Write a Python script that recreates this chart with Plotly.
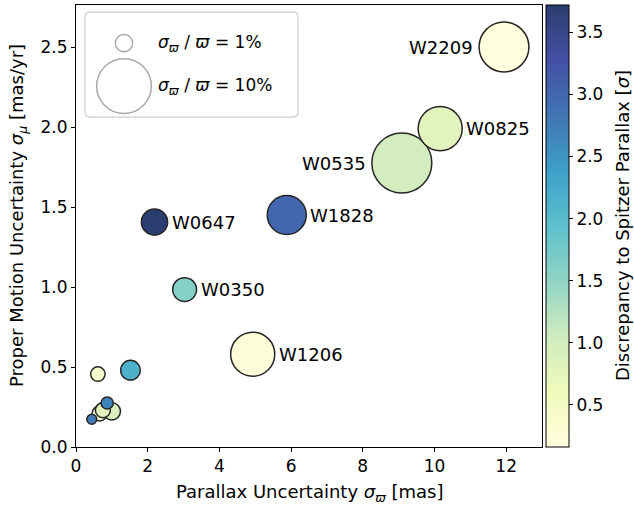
import numpy as np
import plotly.graph_objects as go

# Astrometric uncertainties for each target
names = ["W2209", "W0825", "W0535", "W1828", "W0647", "W0350", "W1206",
         "", "", "", "", "", "", ""]
plx_err = [11.94, 10.16, 9.09, 5.88, 2.19, 3.03, 4.93,
           0.61, 1.52, 1.00, 0.66, 0.75, 0.87, 0.44]          # sigma_varpi [mas]
pm_err = [2.50, 1.99, 1.775, 1.45, 1.406, 0.984, 0.58,
          0.456, 0.48, 0.223, 0.21, 0.23, 0.275, 0.173]       # sigma_mu [mas/yr]
frac_err = [8.3, 6.5, 12.0, 5.1, 2.3, 1.9, 6.5,
            0.7, 1.3, 1.0, 0.75, 0.75, 0.5, 0.33]             # sigma_varpi / varpi [%]
discrepancy = [0.16, 0.8, 1.0, 3.0, 3.72, 1.6, 0.2,
               0.4, 2.15, 0.9, 0.35, 0.8, 2.7, 2.8]          # [sigma]
label_side = ["left", "right", "left", "right", "right", "right", "right",
              None, None, None, None, None, None, None]

legend_fracs = [1, 10]

FONT = "DejaVu Sans"
FS = 18
ALPHA = 0.86
SIZE_K = 17.3  # marker diameter (px) for a 1% fractional error


def diam(p):
    return SIZE_K * np.sqrt(np.asarray(p, dtype=float))


# YlGnBu, pre-blended with white to mimic slight transparency
base = ["#ffffd9", "#edf8b1", "#c7e9b4", "#7fcdbb", "#41b6c4",
        "#1d91c0", "#225ea8", "#253494", "#081d58"]


def blend(h, a):
    h = h.lstrip("#")
    r, g, b = (round(a * int(h[i:i + 2], 16) + (1 - a) * 255) for i in (0, 2, 4))
    return f"rgb({r},{g},{b})"


cscale = [[i / (len(base) - 1), blend(c, ALPHA)] for i, c in enumerate(base)]

# draw largest markers first so small ones stay visible
order = np.argsort(-np.asarray(frac_err))
x = np.asarray(plx_err)[order]
y = np.asarray(pm_err)[order]
p = np.asarray(frac_err)[order]
c = np.asarray(discrepancy)[order]
cmin, cmax = min(discrepancy), max(discrepancy)

fig = go.Figure()
fig.add_trace(go.Scatter(
    x=x, y=y, mode="markers",
    marker=dict(
        size=diam(p), color=c, colorscale=cscale, cmin=cmin, cmax=cmax, opacity=1,
        line=dict(color="#262626", width=1.5),
        colorbar=dict(
            x=1.0086, xanchor="left", xpad=0, y=0.5, yanchor="middle",
            len=1, lenmode="fraction", thickness=23, ypad=0,
            outlinewidth=1, outlinecolor="black",
            ticks="outside", ticklen=4, tickcolor="black",
            tickvals=[0.5, 1.0, 1.5, 2.0, 2.5, 3.0, 3.5],
            ticktext=["0.5", "1.0", "1.5", "2.0", "2.5", "3.0", "3.5"],
            tickfont=dict(family=FONT, size=FS - 1, color="black"),
        ),
    ),
    showlegend=False, hoverinfo="skip",
))

# point labels
for n, xi, yi, pi, side in zip(names, plx_err, pm_err, frac_err, label_side):
    if not n:
        continue
    r = float(diam(pi)) / 2
    off = r + 2 if side == "right" else r + 4
    fig.add_annotation(
        x=xi, y=yi, text=n, showarrow=False,
        xanchor="left" if side == "right" else "right", yanchor="middle",
        xshift=off if side == "right" else -off,
        font=dict(family=FONT, size=FS, color="black"),
    )

# size key box (paper coordinates, pixel-sized shapes)
bx, by = 0.0193, 0.984
W, H, R = 213, 105, 5
box_path = (f"M {R},0 L {W - R},0 Q {W},0 {W},{-R} L {W},{-H + R} Q {W},{-H} {W - R},{-H} "
            f"L {R},{-H} Q 0,{-H} 0,{-H + R} L 0,{-R} Q 0,0 {R},0 Z")
fig.add_shape(type="path", xref="paper", yref="paper", xsizemode="pixel", ysizemode="pixel",
              xanchor=bx, yanchor=by, path=box_path,
              line=dict(color="#cccccc", width=1.2), fillcolor="rgba(255,255,255,0.8)")
rows = [-31, -74]
for frac, dy in zip(legend_fracs, rows):
    r = float(diam(frac)) / 2
    fig.add_shape(type="circle", xref="paper", yref="paper", xsizemode="pixel", ysizemode="pixel",
                  xanchor=bx, yanchor=by, x0=39 - r, x1=39 + r, y0=dy - r, y1=dy + r,
                  line=dict(color="#aaaaaa", width=1.5), fillcolor="white")
    fig.add_annotation(x=bx, y=by, xref="paper", yref="paper", showarrow=False,
                       xanchor="left", yanchor="middle", xshift=71, yshift=dy,
                       text=f"<i>σ</i><sub><i>ϖ</i></sub> / <i>ϖ</i> = {frac}%",
                       font=dict(family=FONT, size=FS - 1, color="black"))

# axis and colorbar titles
fig.add_annotation(x=0.5, y=0, xref="paper", yref="paper", showarrow=False,
                   xanchor="center", yanchor="middle", yshift=-46,
                   text="Parallax Uncertainty <i>σ</i><sub><i>ϖ</i></sub> [mas]",
                   font=dict(family=FONT, size=FS, color="black"))
fig.add_annotation(x=0, y=0.5, xref="paper", yref="paper", showarrow=False,
                   xanchor="center", yanchor="middle", xshift=-58, yshift=10, textangle=-90,
                   text="Proper Motion Uncertainty <i>σ</i><sub><i>μ</i></sub> [mas/yr]",
                   font=dict(family=FONT, size=FS, color="black"))
fig.add_annotation(x=1, y=0.5, xref="paper", yref="paper", showarrow=False,
                   xanchor="center", yanchor="middle", xshift=80, textangle=-90,
                   text="Discrepancy to Spitzer Parallax [<i>σ</i>]",
                   font=dict(family=FONT, size=FS, color="black"))

axis_common = dict(showgrid=False, zeroline=False, showline=True, linecolor="black",
                   linewidth=1, mirror=True, ticks="outside", ticklen=4, tickcolor="black",
                   tickfont=dict(family=FONT, size=FS - 1, color="black"))
fig.update_xaxes(range=[0, 13.0], tickvals=[0, 2, 4, 6, 8, 10, 12], **axis_common)
fig.update_yaxes(range=[0, 2.7625], tickvals=[0, 0.5, 1.0, 1.5, 2.0, 2.5],
                 ticktext=["0.0", "0.5", "1.0", "1.5", "2.0", "2.5"], **axis_common)

fig.update_layout(
    width=634, height=506,
    margin=dict(l=76, r=92, t=5, b=59),
    paper_bgcolor="white", plot_bgcolor="white",
    font=dict(family=FONT, size=FS, color="black"),
)

fig.write_html("out.html")
